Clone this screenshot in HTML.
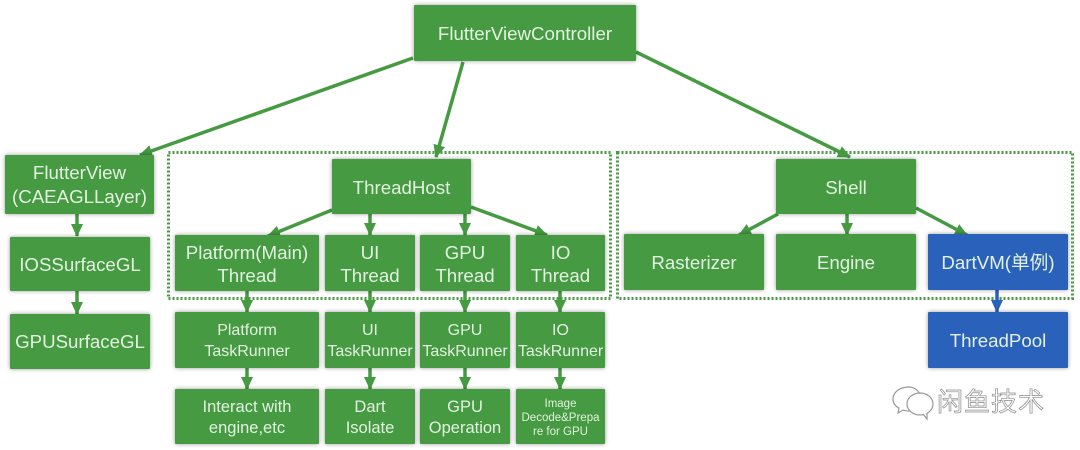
<!DOCTYPE html>
<html><head><meta charset="utf-8">
<style>
html,body{margin:0;padding:0;background:#fff}
#c{position:relative;width:1080px;height:450px;overflow:hidden;font-family:"Liberation Sans","Noto Sans CJK SC",sans-serif;background:#fff}
.b{position:absolute;box-sizing:border-box;padding-top:2px;background:#459a42;color:#e3f2e0;display:flex;align-items:center;justify-content:center;text-align:center;font-size:18.7px;line-height:23.500px;box-shadow:0 0 4px rgba(0,0,0,.4);border-radius:1px;white-space:nowrap}
.t{font-size:16.500px;line-height:21px}
.r{font-size:16px;line-height:21px}
.u{background:#2a62bb}
svg{position:absolute;left:0;top:0}
</style></head><body><div id="c">
<svg width="1080" height="450">
<defs>
<marker id="g" markerUnits="userSpaceOnUse" markerWidth="14" markerHeight="12" refX="12" refY="6" orient="auto"><polygon points="0,0 13,6 0,12" fill="#459a42"/></marker>
<marker id="l" markerUnits="userSpaceOnUse" markerWidth="14" markerHeight="12" refX="12" refY="6" orient="auto"><polygon points="0,0 13,6 0,12" fill="#2a62bb"/></marker>
</defs>
<rect x="168.500" y="152.500" width="442" height="146" fill="none" stroke="#459a42" stroke-width="3" stroke-dasharray="2 2"/>
<rect x="617.500" y="152.500" width="455" height="146" fill="none" stroke="#459a42" stroke-width="3" stroke-dasharray="2 2"/>
<g stroke="#459a42" stroke-width="3.500" fill="none" marker-end="url(#g)">
<line x1="413" y1="58" x2="140" y2="155"/>
<line x1="463" y1="62" x2="436" y2="157"/>
<line x1="636" y1="52" x2="850" y2="157"/>
<line x1="77" y1="214" x2="77" y2="236"/>
<line x1="77" y1="291" x2="77" y2="314"/>
<line x1="332" y1="210" x2="268" y2="236"/>
<line x1="370" y1="214" x2="370" y2="235"/>
<line x1="465" y1="214" x2="465" y2="235"/>
<line x1="471" y1="207" x2="547" y2="235"/>
<line x1="247" y1="291" x2="247" y2="312"/>
<line x1="370" y1="291" x2="370" y2="312"/>
<line x1="465" y1="291" x2="465" y2="312"/>
<line x1="560" y1="291" x2="560" y2="312"/>
<line x1="247" y1="368" x2="247" y2="389"/>
<line x1="370" y1="368" x2="370" y2="389"/>
<line x1="465" y1="368" x2="465" y2="389"/>
<line x1="560" y1="368" x2="560" y2="389"/>
<line x1="778" y1="214" x2="739" y2="235"/>
<line x1="847" y1="214" x2="847" y2="235"/>
<line x1="916" y1="208" x2="967" y2="235"/>
</g>
<line x1="997" y1="290" x2="997" y2="312" stroke="#2a62bb" stroke-width="3.500" marker-end="url(#l)"/>
<g fill="#fff" stroke="#999" stroke-width="1.200" transform="translate(1,-3)">
<path d="M908 390c-9 0-16 5-16 12 0 4 2 7 6 9l-1 5 5-3c2 1 4 1 6 1 7 0 12-6 12-12s-5-12-12-12z"/>
<ellipse cx="919" cy="407" rx="13" ry="11"/>
<path d="M922 417l4 5v-6" />
</g>
</svg>
<div class="b" style="left:414px;top:5px;width:222px;height:56px">FlutterViewController</div>
<div class="b" style="left:5px;top:155px;width:149px;height:59px;padding-top:0">FlutterView<br>(CAEAGLLayer)</div>
<div class="b" style="left:10px;top:237px;width:140px;height:54px">IOSSurfaceGL</div>
<div class="b" style="left:10px;top:314px;width:140px;height:55px;padding-top:0">GPUSurfaceGL</div>
<div class="b" style="left:332px;top:159px;width:139px;height:55px">ThreadHost</div>
<div class="b" style="left:175px;top:235px;width:144px;height:56px">Platform(Main)<br>Thread</div>
<div class="b" style="left:325px;top:235px;width:90px;height:56px">UI<br>Thread</div>
<div class="b" style="left:420px;top:235px;width:90px;height:56px">GPU<br>Thread</div>
<div class="b" style="left:516px;top:235px;width:89px;height:56px">IO<br>Thread</div>
<div class="b r" style="left:175px;top:312px;width:144px;height:56px">Platform<br>TaskRunner</div>
<div class="b r" style="left:325px;top:312px;width:90px;height:56px">UI<br>TaskRunner</div>
<div class="b r" style="left:420px;top:312px;width:90px;height:56px">GPU<br>TaskRunner</div>
<div class="b r" style="left:516px;top:312px;width:89px;height:56px">IO<br>TaskRunner</div>
<div class="b t" style="left:175px;top:389px;width:144px;height:55px">Interact with<br>engine,etc</div>
<div class="b t" style="left:325px;top:389px;width:90px;height:55px">Dart<br>Isolate</div>
<div class="b t" style="left:420px;top:389px;width:90px;height:55px">GPU<br>Operation</div>
<div class="b" style="left:516px;top:389px;width:89px;height:55px;font-size:11.500px;line-height:14px">Image<br>Decode&amp;Prepa<br>re for GPU</div>
<div class="b" style="left:776px;top:159px;width:140px;height:55px">Shell</div>
<div class="b" style="left:624px;top:234px;width:140px;height:56px">Rasterizer</div>
<div class="b" style="left:776px;top:234px;width:140px;height:56px">Engine</div>
<div class="b u" style="left:928px;top:234px;width:140px;height:56px">DartVM(单例)</div>
<div class="b u" style="left:928px;top:312px;width:140px;height:56px">ThreadPool</div>
<div style="position:absolute;left:937px;top:387px;font-size:26px;line-height:30px;color:#fff;-webkit-text-stroke:.7px #8a8a8a;white-space:nowrap;letter-spacing:1px">闲鱼技术</div>
</div></body></html>
